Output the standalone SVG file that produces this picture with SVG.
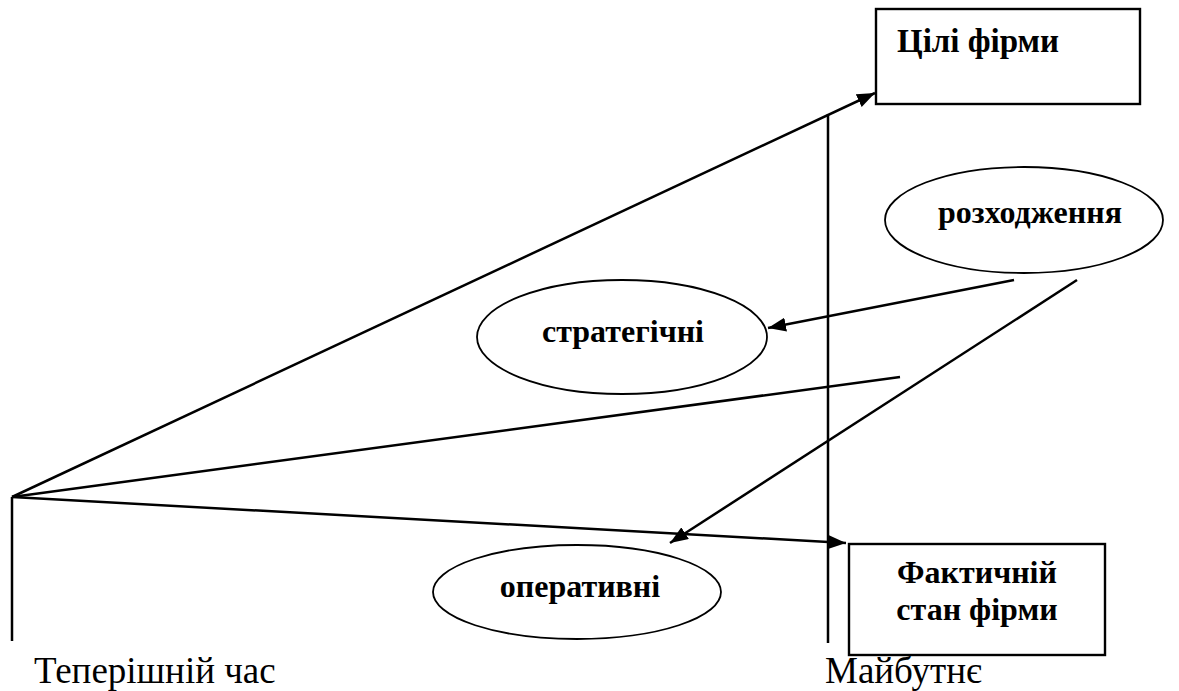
<svg xmlns="http://www.w3.org/2000/svg" width="1179" height="691" viewBox="0 0 1179 691">
  <style>
    .box { fill: #fff; stroke: #000; stroke-width: 2.4; }
    .oval { fill: #fff; stroke: #000; stroke-width: 1.8; }
    .line { fill: none; stroke: #000; stroke-width: 2.5; }
    .lbl { font-family: "Liberation Serif", "Times New Roman", serif; font-weight: bold; font-size: 32px; fill: #000; }
    .axis { font-family: "Liberation Serif", "Times New Roman", serif; font-size: 37px; fill: #000; }
  </style>
  <defs>
    <marker id="arrow" viewBox="0 0 18 14" refX="18" refY="7" markerWidth="18" markerHeight="14" markerUnits="userSpaceOnUse" orient="auto">
      <path d="M0,0 L18,7 L0,14 z" fill="#000"/>
    </marker>
  </defs>

  <!-- time axes -->
  <g id="axes">
    <line class="line" x1="12" y1="497" x2="12" y2="641"/>
    <line class="line" x1="828" y1="114" x2="828" y2="643"/>
    <text class="axis" x="34" y="683">Теперішній час</text>
    <text class="axis" x="825" y="683">Майбутнє</text>
  </g>

  <g id="goals">
    <rect class="box" x="876" y="9" width="264" height="95"/>
    <text class="lbl" x="897" y="52" style="font-size:33px">Цілі фірми</text>
  </g>

  <g id="actual">
    <rect class="box" x="849" y="544" width="256" height="111"/>
    <text class="lbl" x="977" y="583" text-anchor="middle">Фактичній</text>
    <text class="lbl" x="977" y="620" text-anchor="middle">стан фірми</text>
  </g>

  <g id="gap">
    <ellipse class="oval" cx="1024" cy="220" rx="139" ry="53"/>
    <text class="lbl" x="1030" y="223" text-anchor="middle">розходження</text>
  </g>

  <g id="strategic">
    <ellipse class="oval" cx="622" cy="337" rx="145" ry="57"/>
    <text class="lbl" x="623" y="342" text-anchor="middle">стратегічні</text>
  </g>

  <g id="operational">
    <ellipse class="oval" cx="577" cy="592" rx="144" ry="47"/>
    <text class="lbl" x="580" y="597" text-anchor="middle">оперативні</text>
  </g>

  <g id="connectors">
    <line class="line" x1="12" y1="497" x2="875" y2="93" marker-end="url(#arrow)"/>
    <line class="line" x1="12" y1="497" x2="900" y2="377"/>
    <line class="line" x1="12" y1="497" x2="846" y2="543" marker-end="url(#arrow)"/>
    <line class="line" x1="1014" y1="280" x2="768" y2="328" marker-end="url(#arrow)"/>
    <line class="line" x1="1077" y1="280" x2="670" y2="543" marker-end="url(#arrow)"/>
  </g>
</svg>
